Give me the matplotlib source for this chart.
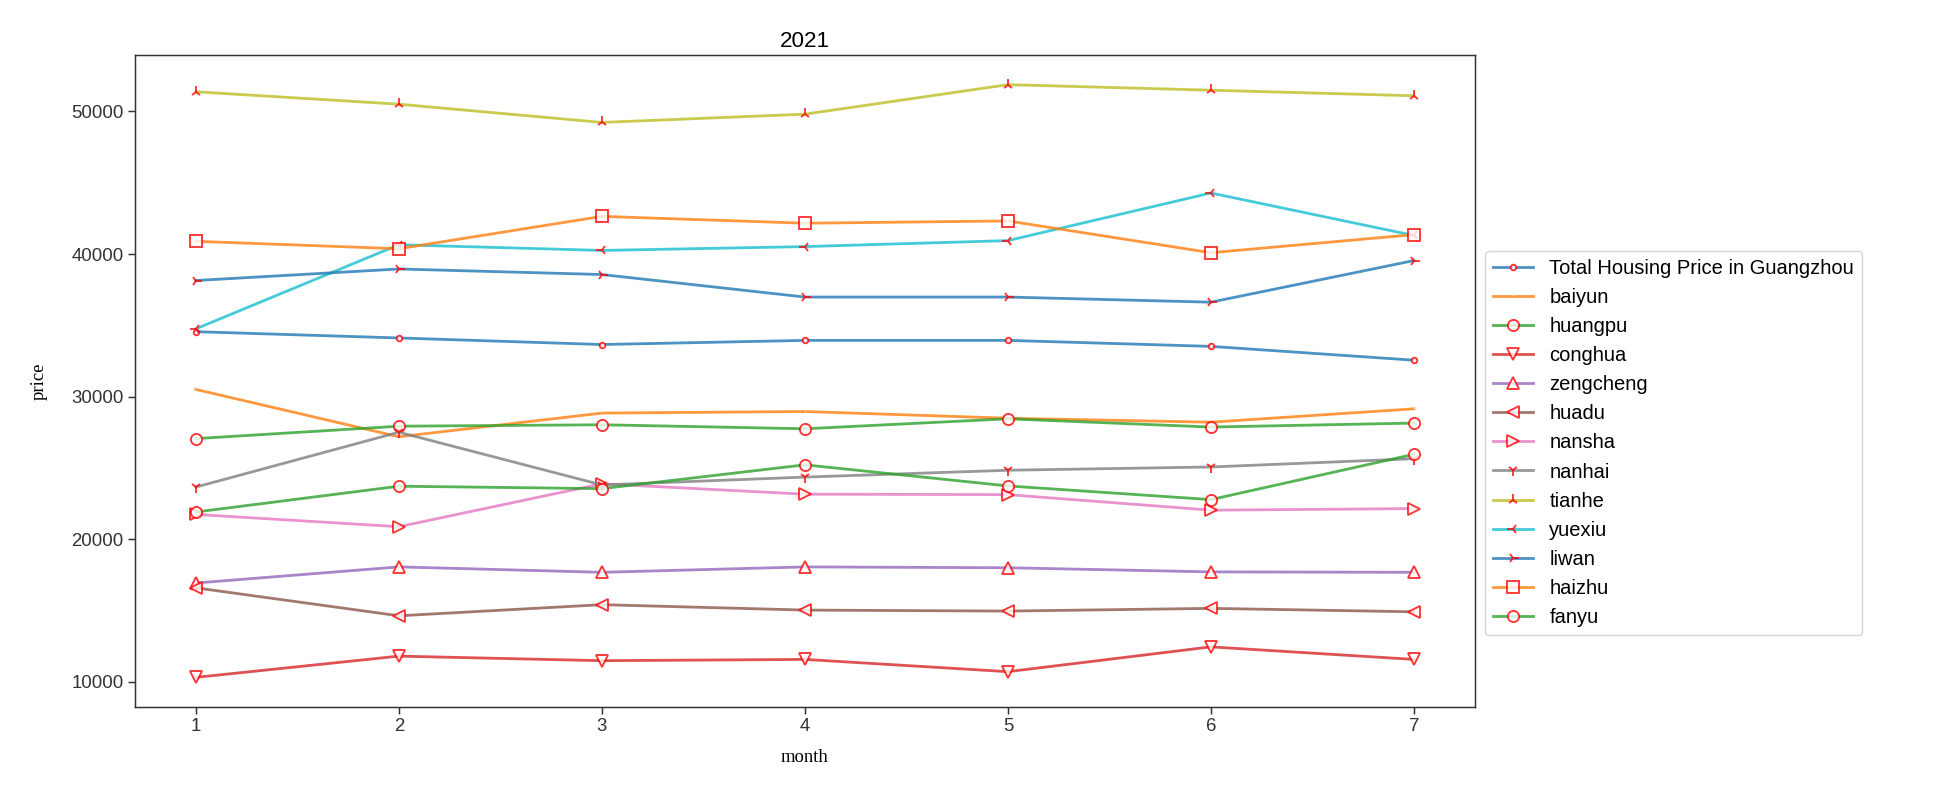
import matplotlib
matplotlib.use('Agg')
from matplotlib import pyplot as plt

months = [1, 2, 3, 4, 5, 6, 7]

total = [34550, 34110, 33650, 33940, 33940, 33520, 32550]
baiyun = [30500, 27180, 28840, 28950, 28480, 28200, 29140]
huangpu = [27050, 27920, 28020, 27740, 28440, 27860, 28140]
conghua = [10300, 11790, 11470, 11560, 10700, 12440, 11560]
zengcheng = [16920, 18050, 17670, 18050, 17990, 17700, 17670]
huadu = [16580, 14620, 15400, 15020, 14950, 15140, 14900]
nansha = [21730, 20870, 23880, 23150, 23120, 22030, 22140]
nanhai = [23650, 27500, 23800, 24350, 24830, 25060, 25640]
tianhe = [51380, 50510, 49230, 49810, 51880, 51490, 51100]
yuexiu = [34750, 40650, 40250, 40520, 40940, 44280, 41300]
liwan = [38140, 38950, 38560, 36980, 36980, 36620, 39540]
haizhu = [40890, 40370, 42640, 42160, 42320, 40090, 41360]
fanyu = [21900, 23710, 23540, 25210, 23730, 22770, 25950]

series = [
    ('Total Housing Price in Guangzhou', total, '.'),
    ('baiyun', baiyun, ','),
    ('huangpu', huangpu, 'o'),
    ('conghua', conghua, 'v'),
    ('zengcheng', zengcheng, '^'),
    ('huadu', huadu, '<'),
    ('nansha', nansha, '>'),
    ('nanhai', nanhai, '1'),
    ('tianhe', tianhe, '2'),
    ('yuexiu', yuexiu, '3'),
    ('liwan', liwan, '4'),
    ('haizhu', haizhu, 's'),
    ('fanyu', fanyu, 'o'),
]

k = 1.34  # scale from the original rendering
plt.rcParams['font.family'] = ['Liberation Sans', 'DejaVu Sans']
plt.rcParams['font.size'] = 10 * k
plt.rcParams['axes.edgecolor'] = '#333333'
plt.rcParams['axes.linewidth'] = 0.8 * k
plt.rcParams['xtick.color'] = '#333333'
plt.rcParams['ytick.color'] = '#333333'
plt.rcParams['xtick.major.size'] = 3.5 * k
plt.rcParams['ytick.major.size'] = 3.5 * k
plt.rcParams['xtick.major.width'] = 0.8 * k
plt.rcParams['ytick.major.width'] = 0.8 * k

fig = plt.figure(figsize=(19.56, 7.86), dpi=100)
ax = fig.add_axes([0.069, 0.1005, 0.685, 0.8295])

for name, values, marker in series:
    ax.plot(months, values, marker=marker, label=name, alpha=0.8, linewidth=1.5 * k,
            markersize=6 * k, markerfacecolor='white', markeredgecolor='red',
            markeredgewidth=1.0 * k)

ax.set_title('2021', fontsize=12 * k)
ax.set_xlabel('month', family='Liberation Serif', labelpad=10)
ax.set_ylabel('price', family='Liberation Serif', labelpad=17)
ax.legend(loc='center left', bbox_to_anchor=(1.0, 0.405), fontsize=14.5)

fig.savefig('out.png', dpi=100)
plt.close(fig)
